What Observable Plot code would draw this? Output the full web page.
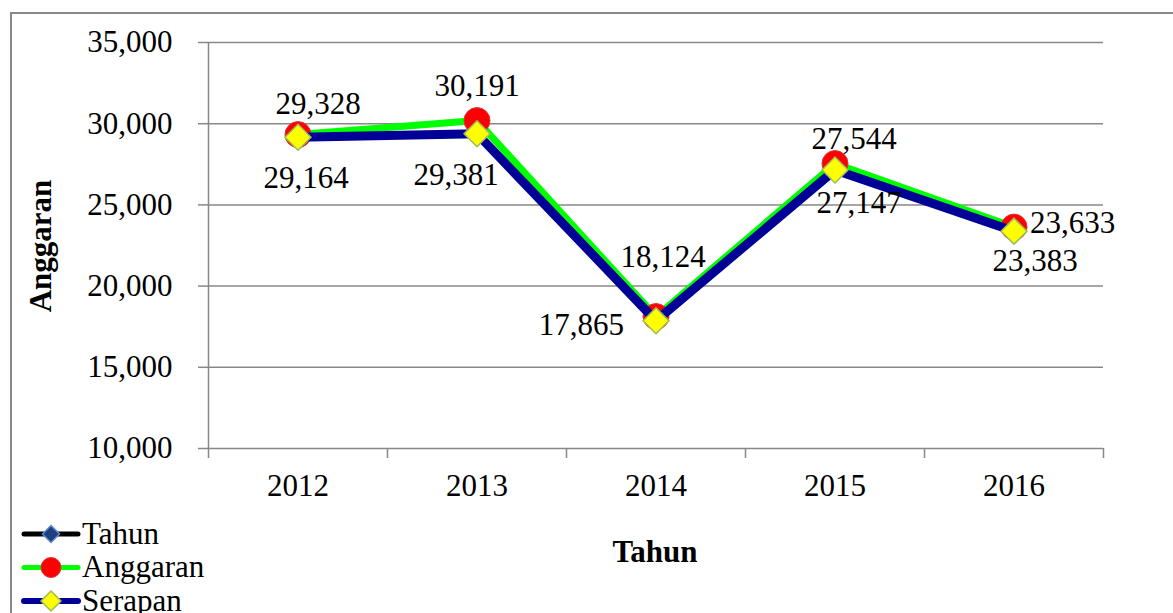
<!DOCTYPE html>
<html><head><meta charset="utf-8">
<script src="https://cdn.jsdelivr.net/npm/d3@7"></script>
<script src="https://cdn.jsdelivr.net/npm/@observablehq/plot@0.6"></script>
<style>
html,body{margin:0;padding:0;background:#fff;}
#wrap{position:relative;width:1173px;height:613px;overflow:hidden;font-family:"Liberation Serif","Times New Roman",serif;}
#frame{position:absolute;left:10px;top:12px;width:1300px;height:800px;border:2px solid #888;box-sizing:border-box;}
#chart{position:absolute;left:0;top:0;}
#chart svg, #chart svg text{font-family:"Liberation Serif","Times New Roman",serif !important;}
#chart svg text{fill:#000;}
#chart g[aria-label*="axis"] line, #chart g[aria-label*="axis"] path{stroke:#888;stroke-width:1.5px;}
.title{position:absolute;font-weight:bold;font-size:31px;white-space:nowrap;line-height:1;color:#000;}
#legend{position:absolute;left:0;top:0;}
</style></head>
<body>
<div id="wrap">
  <div id="frame"></div>
  <div id="chart"></div>
  <div class="title" id="ytitle"></div>
  <div class="title" id="xtitle"></div>
  <svg id="legend" width="300" height="613"></svg>
</div>
<script>
// ---- data ----
const years = [2012, 2013, 2014, 2015, 2016];
const anggaran = [29328, 30191, 18124, 27544, 23633];
const serapan = [29164, 29381, 17865, 27147, 23383];
const yTicks = [10000, 15000, 20000, 25000, 30000, 35000];
const seriesNames = ["Tahun", "Anggaran", "Serapan"];
const xTitle = "Tahun";
const yTitle = "Anggaran";

// ---- label placement (dx, dy, anchor) ----
const anggaranPlace = [[20,-31,"middle"],[0,-35,"middle"],[7,-59,"middle"],[19,-25,"middle"],[16,-4,"start"]];
const serapanPlace = [[8,41,"middle"],[-21,41,"middle"],[-32,4,"end"],[24,33,"middle"],[21,30,"middle"]];

const rows = years.map((year, i) => ({year, anggaran: anggaran[i], serapan: serapan[i]}));
const fmt = d3.format(",");
const bounds = [years[0] - 0.5, ...years.map(y => y + 0.5)];

const GREEN = "#00ff00", NAVY = "#000096", RED = "#ff0000", YELLOW = "#ffff00";
const FONT = "Liberation Serif";

const labelMarks = [];
rows.forEach((d, i) => {
  labelMarks.push(Plot.text([d], {x: "year", y: "anggaran", text: r => fmt(r.anggaran),
    dx: anggaranPlace[i][0], dy: anggaranPlace[i][1], textAnchor: anggaranPlace[i][2], fontSize: 31, fontFamily: FONT, fill: "#000"}));
  labelMarks.push(Plot.text([d], {x: "year", y: "serapan", text: r => fmt(r.serapan),
    dx: serapanPlace[i][0], dy: serapanPlace[i][1], textAnchor: serapanPlace[i][2], fontSize: 31, fontFamily: FONT, fill: "#000"}));
});

const chart = Plot.plot({
  width: 1173, height: 613,
  marginLeft: 208, marginRight: 70, marginTop: 42, marginBottom: 165,
  style: {fontFamily: FONT, fontSize: "31px", color: "#888", background: "transparent", overflow: "visible"},
  x: {domain: [bounds[0], bounds[bounds.length - 1]], ticks: bounds, tickSize: 10, tickFormat: () => "", label: null},
  y: {domain: [yTicks[0], yTicks[yTicks.length - 1]], ticks: yTicks, tickSize: 10, tickPadding: 26, tickFormat: fmt, label: null},
  marks: [
    Plot.ruleY(yTicks, {stroke: "#888", strokeWidth: 1.5}),
    Plot.ruleX([bounds[0]], {stroke: "#888", strokeWidth: 1.5}),
    Plot.text(rows, {x: "year", text: d => String(d.year), frameAnchor: "bottom", dy: 47, fontSize: 31, fontFamily: FONT, fill: "#000"}),
    Plot.line(rows, {x: "year", y: "anggaran", stroke: GREEN, strokeWidth: 7}),
    Plot.dot(rows, {x: "year", y: "anggaran", r: 13, fill: RED, stroke: "#d33", strokeWidth: 1}),
    Plot.line(rows, {x: "year", y: "serapan", stroke: NAVY, strokeWidth: 9}),
    Plot.dot(rows, {x: "year", y: "serapan", symbol: "diamond2", r: 11.7, fill: YELLOW, stroke: "#9bbb59", strokeWidth: 1.5}),
    ...labelMarks
  ]
});
document.getElementById("chart").appendChild(chart);

// ---- titles ----
const yt = document.getElementById("ytitle");
yt.textContent = yTitle;
yt.style.left = "40px"; yt.style.top = "246px";
yt.style.transform = "translate(-50%,-50%) rotate(-90deg)";
const xt = document.getElementById("xtitle");
xt.textContent = xTitle;
xt.style.left = "655px"; xt.style.top = "551px";
xt.style.transform = "translate(-50%,-50%)";

// ---- legend ----
const legendStyle = [
  {line: "#000", lw: 5, marker: "diamond", size: 8.5, fill: "#1f3f7f", stroke: "#5b8bd0"},
  {line: GREEN, lw: 5, marker: "circle", size: 10, fill: RED, stroke: "#d33"},
  {line: NAVY, lw: 6, marker: "diamond", size: 10, fill: YELLOW, stroke: "#9bbb59"}
];
const lg = d3.select("#legend");
seriesNames.forEach((name, i) => {
  const s = legendStyle[i];
  const cy = 534 + i * 33.5;
  const g = lg.append("g").attr("transform", `translate(0,${cy})`);
  g.append("line").attr("x1", 24).attr("x2", 78).attr("y1", 0).attr("y2", 0)
    .attr("stroke", s.line).attr("stroke-width", s.lw).attr("stroke-linecap", "round");
  if (s.marker === "circle") {
    g.append("circle").attr("cx", 51).attr("cy", 0).attr("r", s.size).attr("fill", s.fill).attr("stroke", s.stroke);
  } else {
    const r = s.size;
    g.append("path").attr("d", `M51,${-r}L${51 + r},0L51,${r}L${51 - r},0Z`)
      .attr("fill", s.fill).attr("stroke", s.stroke).attr("stroke-width", 1.5);
  }
  g.append("text").attr("x", 82).attr("y", 0).attr("dy", "0.32em")
    .attr("font-family", "'Liberation Serif', 'Times New Roman', serif").attr("font-size", 31)
    .attr("fill", "#000").text(name);
});
</script>
</body></html>
